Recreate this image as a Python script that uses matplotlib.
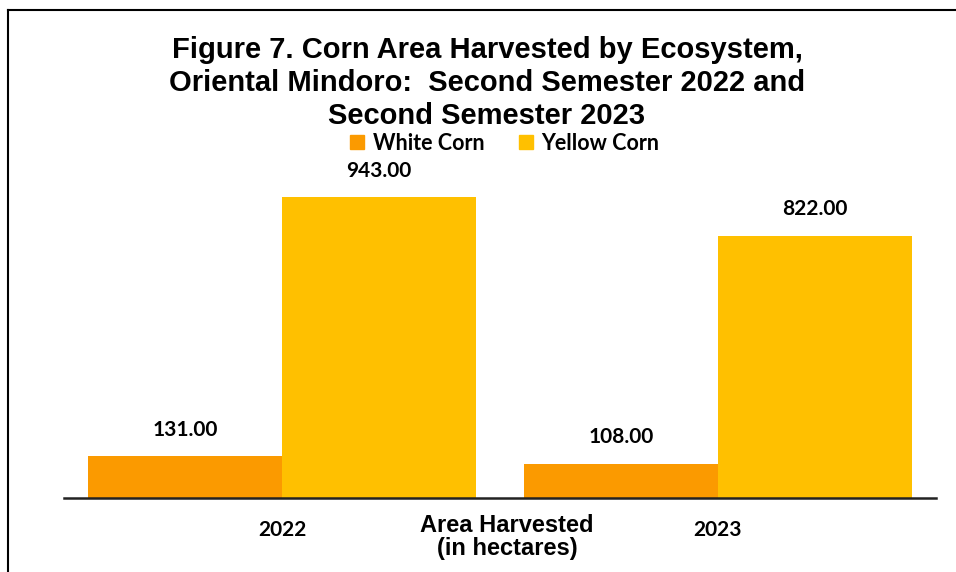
import matplotlib
matplotlib.use('Agg')
import matplotlib.pyplot as plt
import numpy as np
from matplotlib.lines import Line2D
from matplotlib.patches import Patch

# Chart data
years = ['2022', '2023']
white_corn = [131.00, 108.00]
yellow_corn = [943.00, 822.00]
series_names = ['White Corn', 'Yellow Corn']
colors = ['#FB9A00', '#FFC000']

fig = plt.figure(figsize=(9.56, 5.72), dpi=100)
ax = fig.add_axes([64 / 956, 1 - 498 / 572, 872 / 956, (498 - 179) / 572])

x = np.arange(len(years))
w = 0.445
bars_w = ax.bar(x - w / 2, white_corn, w, color=colors[0])
bars_y = ax.bar(x + w / 2, yellow_corn, w, color=colors[1])

for bars, vals in [(bars_w, white_corn), (bars_y, yellow_corn)]:
    for b, v in zip(bars, vals):
        ax.annotate(f'{v:.2f}', (b.get_x() + b.get_width() / 2, v),
                    xytext=(0, 12), textcoords='offset points',
                    ha='center', va='bottom', fontsize=15,
                    fontweight='bold', family='Lato')

ax.set_xlim(-0.5, 1.5)
ax.set_ylim(0, 1000)
ax.set_yticks([])
ax.set_xticks(x)
ax.set_xticklabels(years, fontsize=15, fontweight='bold', family='Lato')
ax.tick_params(axis='x', length=0, pad=16)
for s in ['top', 'right', 'left']:
    ax.spines[s].set_visible(False)
ax.spines['bottom'].set_linewidth(1.8)
ax.spines['bottom'].set_color('#222222')

fig.text(507 / 956, 1 - 537 / 572, 'Area Harvested\n(in hectares)', ha='center', va='center',
         fontsize=17, fontweight='bold', family='Liberation Sans', linespacing=0.95)

fig.text(487 / 956, 1 - 83 / 572,
         'Figure 7. Corn Area Harvested by Ecosystem,\nOriental Mindoro:  Second Semester 2022 and\nSecond Semester 2023',
         ha='center', va='center', fontsize=21, fontweight='bold',
         family='Liberation Sans', linespacing=1.22)

handles = [Patch(color=c) for c in colors]
fig.legend(handles, series_names, loc='center', bbox_to_anchor=(505 / 956, 1 - 143 / 572),
           ncol=2, frameon=False, prop={'family': 'Lato', 'weight': 'bold', 'size': 15.5},
           handlelength=0.65, handleheight=0.65, handletextpad=0.4, columnspacing=1.6)

# partial frame around the figure
fig.add_artist(Line2D([8 / 956, 8 / 956], [0, 1 - 10 / 572], color='black', lw=1.5))
fig.add_artist(Line2D([8 / 956, 1], [1 - 10 / 572, 1 - 10 / 572], color='black', lw=1.5))

fig.savefig('out.png', dpi=100)
